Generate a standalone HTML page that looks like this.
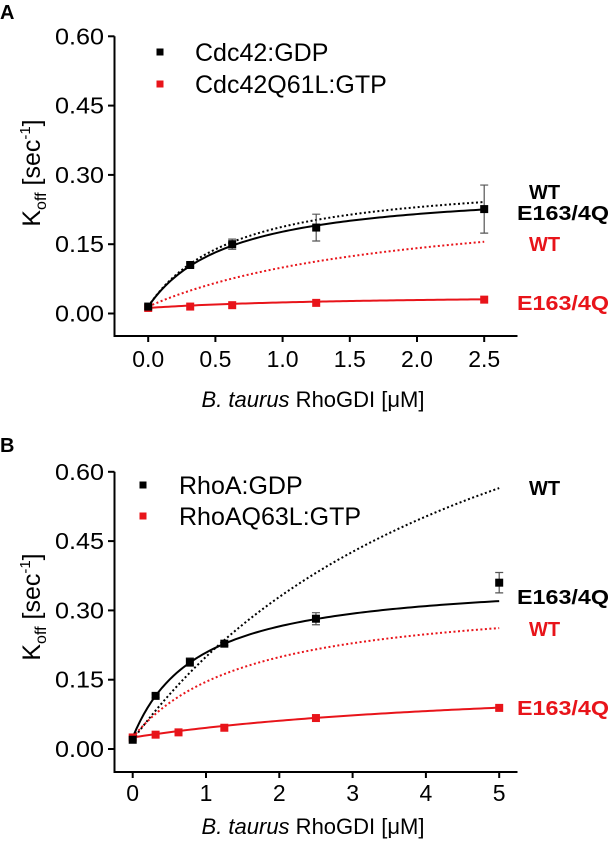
<!DOCTYPE html>
<html><head><meta charset="utf-8"><style>
body{margin:0;background:#fff;width:610px;height:853px;overflow:hidden}
svg{display:block;font-family:"Liberation Sans",Arial,sans-serif}
</style></head><body>
<svg id="chart" width="610" height="853" viewBox="0 0 610 853" xmlns="http://www.w3.org/2000/svg"></svg>
<script>
// Panel A data
const aX = [0, 0.3125, 0.625, 1.25, 2.5];
const aBlackY = [0.015, 0.105, 0.150, 0.186, 0.226];
const aBlackErr = [0, 0.004, 0.011, 0.029, 0.052];
const aRedY = [0.012, 0.015, 0.018, 0.023, 0.030];
const aXTicks = [0, 0.5, 1.0, 1.5, 2.0, 2.5];
const aXTickLabels = ["0.0", "0.5", "1.0", "1.5", "2.0", "2.5"];
// fit params [y0, Vmax, K]
const aFitBlackSolid = [0.015, 0.262, 0.617];
const aFitBlackDot = [0.015, 0.285, 0.65];
const aFitRedDot = [0.015, 0.249, 1.94];
const aFitRedSolid = [0.012, 0.030, 1.5];
// Panel B data
const bBlackX = [0, 0.3125, 0.78, 1.25, 2.5, 5];
const bBlackY = [0.020, 0.115, 0.188, 0.228, 0.282, 0.360];
const bBlackErr = [0, 0.004, 0.009, 0.004, 0.013, 0.022];
const bRedX = [0, 0.3125, 0.625, 1.25, 2.5, 5];
const bRedY = [0.025, 0.031, 0.036, 0.046, 0.067, 0.089];
const bXTicks = [0, 1, 2, 3, 4, 5];
const bXTickLabels = ["0", "1", "2", "3", "4", "5"];
const bFitBlackSolid = [0.025, 0.348, 0.895];
const bFitBlackDot = [0.020, 1.108, 5.17];
const bFitRedDot = [0.025, 0.312, 1.59];
const bFitRedSolid = [0.025, 0.1355, 5.5];
const yTicks = [0, 0.15, 0.30, 0.45, 0.60];
const yTickLabels = ["0.00", "0.15", "0.30", "0.45", "0.60"];

const NS = "http://www.w3.org/2000/svg";
const svg = document.getElementById("chart");
function mk(tag, attrs, parent, text){
  const e = document.createElementNS(NS, tag);
  for (const k in attrs) e.setAttribute(k, attrs[k]);
  if (text !== undefined) e.textContent = text;
  (parent || svg).appendChild(e);
  return e;
}

function panel(cfg){
  const g = mk("g", {});
  
  
  const sx = v => cfg.x0 + v * cfg.pxPerX;
  const sy = v => cfg.y0 - v * cfg.pxPerY;
  const L = mk("text", {x: 0, y: cfg.letterY, "font-size": 20, "font-weight": "bold"}, g, cfg.letter);
  
  
  const ya = mk("line", {x1: 114.5, y1: sy(0.6), x2: 114.5, y2: cfg.axisBottom, stroke: "#000", "stroke-width": 2}, g);
  
  
  const xa = mk("line", {x1: 113.5, y1: cfg.axisBottom, x2: 517.5, y2: cfg.axisBottom, stroke: "#000", "stroke-width": 2}, g);
  
  
  yTicks.forEach((v, i) => {
    mk("line", {x1: 108, y1: sy(v), x2: 114.5, y2: sy(v), stroke: "#000", "stroke-width": 2}, g);
    const t = mk("text", {x: 104, y: sy(v) + 8, "font-size": 23, "text-anchor": "end", textLength: 49, lengthAdjust: "spacingAndGlyphs"}, g, yTickLabels[i]);
    
    
  });
  cfg.xTicks.forEach((v, i) => {
    mk("line", {x1: sx(v), y1: cfg.axisBottom, x2: sx(v), y2: cfg.axisBottom + 6, stroke: "#000", "stroke-width": 2}, g);
    const t = mk("text", {x: sx(v), y: cfg.tickY + 8, "font-size": 23, "text-anchor": "middle"}, g, cfg.xTickLabels[i]);
    
    
  });
  const xt = mk("text", {x: 313, y: cfg.titleY + 8, "font-size": 22, "text-anchor": "middle"}, g);
  
  
  mk("tspan", {"font-style": "italic"}, xt, "B. taurus");
  mk("tspan", {}, xt, " RhoGDI [\u03bcM]");
  const yt = mk("text", {transform: `translate(40,${cfg.yTitleY}) rotate(-90)`, "font-size": 25, "text-anchor": "middle"}, g);
  
  
  mk("tspan", {}, yt, "K");
  mk("tspan", {"font-size": 16, dy: 6}, yt, "off");
  mk("tspan", {dy: -6}, yt, " [sec");
  mk("tspan", {"font-size": 15, dy: -10}, yt, "-1");
  mk("tspan", {dy: 10}, yt, "]");
  function curve(p, color, dotted, name){
    let d = "";
    for (let i = 0; i <= 100; i++){
      const x = cfg.xMax * i / 100;
      const y = p[0] + p[1] * x / (p[2] + x);
      d += (i ? "L" : "M") + sx(x).toFixed(2) + " " + sy(y).toFixed(2);
    }
    const c = mk("path", {d: d, fill: "none", stroke: color, "stroke-width": 2, "stroke-dasharray": dotted ? "2 2.5" : "none"}, g);
    
    
  }
  curve(cfg.fitBD, "#000", true, "wt-black-fit");
  curve(cfg.fitRD, "#e8141a", true, "wt-red-fit");
  curve(cfg.fitBS, "#000", false, "mutant-black-fit");
  curve(cfg.fitRS, "#e8141a", false, "mutant-red-fit");
  cfg.redX.forEach((x, i) => {
    const r = mk("rect", {x: sx(x) - 4, y: sy(cfg.redY[i]) - 4, width: 8, height: 8, fill: "#e8141a"}, g);
    
    
  });
  cfg.blackX.forEach((x, i) => {
    const e = cfg.blackErr[i];
    if (e > 0){
      const cx = sx(x);
      const eb = mk("path", {d: `M${cx} ${sy(cfg.blackY[i]+e)}V${sy(cfg.blackY[i]-e)}M${cx-4} ${sy(cfg.blackY[i]+e)}H${cx+4}M${cx-4} ${sy(cfg.blackY[i]-e)}H${cx+4}`, stroke: "#555", "stroke-width": 1.2, fill: "none"}, g);
      
      
    }
    const r = mk("rect", {x: sx(x) - 4, y: sy(cfg.blackY[i]) - 4, width: 8, height: 8, fill: "#000"}, g);
    
    
  });
  cfg.legend.forEach((l, i) => {
    const le = mk("g", {}, g);
    
    
    mk("rect", {x: cfg.legMX - 3.5, y: l.y - 3.5, width: 7, height: 7, fill: l.color}, le);
    mk("text", {x: cfg.legTX, y: l.y + 9, "font-size": 25}, le, l.text);
  });
  cfg.labels.forEach(l => {
    const attrs = {x: l.x, y: l.y + 7, "font-size": 20, "font-weight": "bold", fill: l.color};
    if (l.text === "E163/4Q") { attrs.textLength = 92; attrs.lengthAdjust = "spacingAndGlyphs"; }
    const t = mk("text", attrs, g, l.text);
    
    
  });
}

panel({name: "panel-a", letter: "A", letterY: 19, x0: 148.2, pxPerX: 134.4, xMax: 2.5,
  y0: 313.5, pxPerY: 69.3/0.15, axisBottom: 336, tickY: 359, titleY: 399, yTitleY: 173,
  xTicks: aXTicks, xTickLabels: aXTickLabels,
  blackX: aX, blackY: aBlackY, blackErr: aBlackErr, redX: aX, redY: aRedY,
  fitBS: aFitBlackSolid, fitBD: aFitBlackDot, fitRD: aFitRedDot, fitRS: aFitRedSolid,
  legMX: 160, legTX: 195,
  legend: [{y: 52, color: "#000", text: "Cdc42:GDP"}, {y: 84, color: "#e8141a", text: "Cdc42Q61L:GTP"}],
  labels: [{x: 529, y: 192, color: "#000", text: "WT"}, {x: 517, y: 213, color: "#000", text: "E163/4Q"},
           {x: 529, y: 244, color: "#e8141a", text: "WT"}, {x: 517, y: 303, color: "#e8141a", text: "E163/4Q"}]
});
panel({name: "panel-b", letter: "B", letterY: 452, x0: 132.7, pxPerX: 73.3, xMax: 5,
  y0: 749, pxPerY: 69.3/0.15, axisBottom: 772, tickY: 793, titleY: 826, yTitleY: 607,
  xTicks: bXTicks, xTickLabels: bXTickLabels,
  blackX: bBlackX, blackY: bBlackY, blackErr: bBlackErr, redX: bRedX, redY: bRedY,
  fitBS: bFitBlackSolid, fitBD: bFitBlackDot, fitRD: bFitRedDot, fitRS: bFitRedSolid,
  legMX: 143, legTX: 179,
  legend: [{y: 485, color: "#000", text: "RhoA:GDP"}, {y: 516, color: "#e8141a", text: "RhoAQ63L:GTP"}],
  labels: [{x: 529, y: 488, color: "#000", text: "WT"}, {x: 517, y: 597, color: "#000", text: "E163/4Q"},
           {x: 529, y: 629, color: "#e8141a", text: "WT"}, {x: 517, y: 708, color: "#e8141a", text: "E163/4Q"}]
});
</script>
</body></html>
